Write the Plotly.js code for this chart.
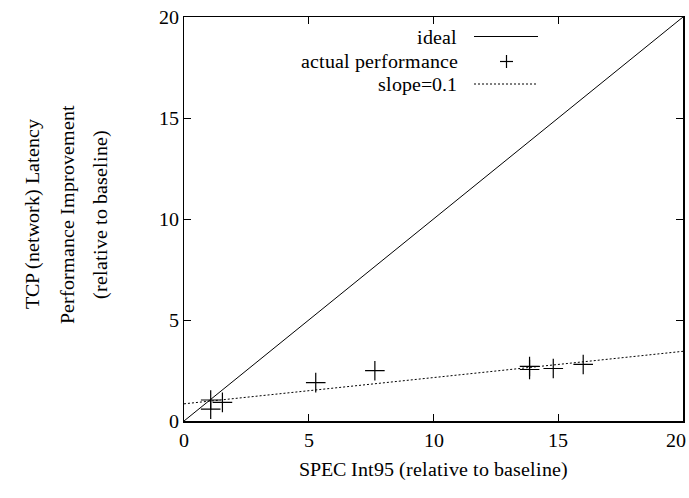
<!DOCTYPE html>
<html>
<head>
<meta charset="utf-8">
<script src="https://cdn.plot.ly/plotly-3.0.1.min.js"></script>
<style>
@font-face{font-family:'ChartSerif';src:local('Liberation Serif'),local('LiberationSerif'),local('Times New Roman');}
html,body{margin:0;padding:0;background:#fff;}
#chart{width:689px;height:498px;}
#chart svg text{font-family:'ChartSerif','Liberation Serif',serif !important;}
</style>
</head>
<body>
<div id="chart"></div>
<script>
var idealX = [0, 20];
var idealY = [0, 20];
var actualX = [1.07, 1.07, 1.54, 5.28, 7.65, 13.85, 13.85, 14.8, 16.0];
var actualY = [1.04, 0.59, 0.92, 1.9, 2.49, 2.7, 2.55, 2.6, 2.8];
var slopeX = [0, 20];
var slopeY = [0.85, 3.45];
var tickVals = [0, 5, 10, 15, 20];
var xTickText = ["0", "5", "10", "15", ""];
var yTickText = ["0", "5", "10", "15", "20"];
var lastXTick = "20";
var legendNames = ["ideal", "actual performance", "slope=0.1"];
var yTitleLines = ["TCP (network) Latency", "Performance Improvement", "(relative to baseline)"];
var xTitle = "SPEC Int95 (relative to baseline)";

var FONT = "serif";

var traces = [
  {x: idealX, y: idealY, mode: "lines", line: {color: "#000", width: 1}, name: legendNames[0], showlegend: false, cliponaxis: false},
  {x: actualX, y: actualY, mode: "markers", marker: {symbol: "cross-thin-open", size: 14, color: "#000", line: {color: "#000", width: 1.2}}, name: legendNames[1], showlegend: false},
  {x: slopeX, y: slopeY, mode: "lines", line: {color: "#000", width: 1, dash: "2px,2px"}, name: legendNames[2], showlegend: false}
];

function px2paperX(p){ return (p - 184) / 499; }
function px2paperY(p){ return (421 - p) / 404; }

var legRows = [36.5, 61.5, 84];
var annotations = [];
legendNames.forEach(function(n, i){
  annotations.push({xref: "paper", yref: "paper", x: px2paperX(459), y: px2paperY(legRows[i]), xanchor: "right", yanchor: "middle", text: n, showarrow: false, font: {family: FONT, size: 20, color: "#000"}});
});
var yTitleX = [32, 67, 100];
yTitleLines.forEach(function(t, i){
  annotations.push({xref: "paper", yref: "paper", x: px2paperX(yTitleX[i]), y: px2paperY(215), xanchor: "center", yanchor: "middle", textangle: -90, text: t, showarrow: false, font: {family: FONT, size: 20, color: "#000"}});
});
annotations.push({xref: "x", yref: "paper", x: tickVals[4], y: px2paperY(440), xanchor: "right", yanchor: "middle", xshift: 5, text: lastXTick, showarrow: false, font: {family: FONT, size: 20, color: "#000"}});

var shapes = [
  {type: "line", xref: "paper", yref: "paper", x0: px2paperX(474), x1: px2paperX(538), y0: px2paperY(legRows[0]), y1: px2paperY(legRows[0]), line: {color: "#000", width: 1}},
  {type: "line", xref: "paper", yref: "paper", x0: px2paperX(474), x1: px2paperX(538), y0: px2paperY(legRows[2]), y1: px2paperY(legRows[2]), line: {color: "#000", width: 1, dash: "2px,2px"}},
  {type: "line", xref: "paper", yref: "paper", x0: px2paperX(500), x1: px2paperX(513), y0: px2paperY(legRows[1]), y1: px2paperY(legRows[1]), line: {color: "#000", width: 1.2}},
  {type: "line", xref: "paper", yref: "paper", x0: px2paperX(506.5), x1: px2paperX(506.5), y0: px2paperY(legRows[1] - 6.5), y1: px2paperY(legRows[1] + 6.5), line: {color: "#000", width: 1.2}}
];

var axisCommon = {
  range: [0, 20], tickvals: tickVals, tickmode: "array", ticks: "inside", ticklen: 7, tickwidth: 1, tickcolor: "#000",
  showline: true, linecolor: "#000", linewidth: 1.5, mirror: "ticks", showgrid: false, zeroline: false,
  tickfont: {family: FONT, size: 20, color: "#000"}, fixedrange: true
};

var layout = {
  width: 689, height: 498,
  margin: {l: 184, r: 6, t: 17, b: 77, pad: 0},
  paper_bgcolor: "#fff", plot_bgcolor: "#fff",
  showlegend: false,
  font: {family: FONT, color: "#000"},
  xaxis: Object.assign({}, axisCommon, {ticktext: xTickText, title: {text: xTitle, font: {family: FONT, size: 20, color: "#000"}, standoff: 12}}),
  yaxis: Object.assign({}, axisCommon, {ticktext: yTickText}),
  annotations: annotations,
  shapes: shapes
};

Plotly.newPlot("chart", traces, layout, {displayModeBar: false, staticPlot: true});
</script>
</body>
</html>
